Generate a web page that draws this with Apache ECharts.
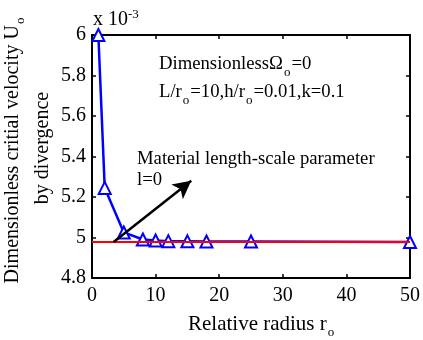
<!DOCTYPE html>
<html>
<head>
<meta charset="utf-8">
<script src="https://cdn.jsdelivr.net/npm/echarts@6/dist/echarts.min.js"></script>
<style>
	html, body { margin: 0; padding: 0; background: #fff; }
	#chart { width: 423px; height: 340px; }
</style>
</head>
<body>
<div id="chart"></div>
<script>
// relative radius r_o and critical velocity (x 10^-3)
const radius = [1, 2, 5, 8, 10, 12, 15, 18, 25, 50]
const velocity = [6.0, 5.245, 5.025, 4.99, 4.985, 4.982, 4.981, 4.98, 4.98, 4.978]
// classical limit (l=0) drawn as a flat red line
const limitX = [0, 50]
const limitY = [4.978, 4.978]
// arrow from the red line to the note
const arrowFrom = [3.4, 4.978]
const arrowTo = [15.6, 5.28]
const xTicks = [0, 10, 20, 30, 40, 50]
const yTicks = [4.8, 5, 5.2, 5.4, 5.6, 5.8, 6]

const font = 'Liberation Serif'
const chart = echarts.init(document.getElementById('chart'))

const axisCommon = {
	axisLine: { show: true, onZero: false, lineStyle: { color: '#000', width: 2 } },
	axisTick: { show: true, inside: true, length: 4, lineStyle: { color: '#000', width: 1.5 } },
	splitLine: { show: false },
}
const sub = { fontSize: 13, fontFamily: font, padding: [16, 1, 0, 1] }

const option = {
	animation: false,
	backgroundColor: '#fff',
	grid: { left: 92, right: 8, top: 35, bottom: 62 },
	xAxis: [
		{
			type: 'value',
			min: xTicks[0],
			max: xTicks[xTicks.length - 1],
			interval: 10,
			...axisCommon,
			axisLabel: { color: '#000', fontFamily: font, fontSize: 20, margin: 8 },
		},
		{
			type: 'value',
			position: 'top',
			min: xTicks[0],
			max: xTicks[xTicks.length - 1],
			interval: 10,
			...axisCommon,
			axisLabel: { show: false },
		},
	],
	yAxis: [
		{
			type: 'value',
			min: yTicks[0],
			max: yTicks[yTicks.length - 1],
			interval: 0.2,
			...axisCommon,
			axisLabel: {
				color: '#000',
				fontFamily: font,
				fontSize: 20,
				margin: 6,
				formatter: (v) => String(parseFloat(v.toFixed(1))),
			},
		},
		{
			type: 'value',
			position: 'right',
			min: yTicks[0],
			max: yTicks[yTicks.length - 1],
			interval: 0.2,
			...axisCommon,
			axisLabel: { show: false },
		},
	],
	series: [
		{
			type: 'line',
			data: limitX.map((x, i) => [x, limitY[i]]),
			showSymbol: false,
			lineStyle: { color: '#ff0000', width: 2 },
			z: 3,
			markLine: {
				silent: true,
				symbol: ['none', 'arrow'],
				symbolSize: [14, 18],
				label: { show: false },
				lineStyle: { color: '#000', width: 2.5, type: 'solid' },
				data: [[{ coord: arrowFrom }, { coord: arrowTo }]],
			},
		},
		{
			type: 'line',
			data: radius.map((x, i) => [x, velocity[i]]),
			symbol: 'emptyTriangle',
			symbolSize: 12,
			lineStyle: { color: '#0000ff', width: 2.5 },
			itemStyle: { color: '#0000ff', borderWidth: 2 },
			z: 2,
		},
	],
	graphic: [
		{
			type: 'text',
			left: 93,
			top: 8,
			style: {
				text: 'x 10{sup|-3}',
				font: '20px ' + font,
				fill: '#000',
				rich: { sup: { fontSize: 13, fontFamily: font, verticalAlign: 'top', padding: [0, 0, 10, 0] } },
			},
		},
		{
			type: 'text',
			left: 159,
			top: 55,
			style: {
				text: 'DimensionlessΩ{sub|o}=0',
				font: '18.7px ' + font,
				fill: '#000',
				rich: { sub },
			},
		},
		{
			type: 'text',
			left: 159,
			top: 83,
			style: {
				text: 'L/r{sub|o}=10,h/r{sub|o}=0.01,k=0.1',
				font: '18.7px ' + font,
				fill: '#000',
				rich: { sub },
			},
		},
		{
			type: 'text',
			left: 137,
			top: 150,
			style: { text: 'Material length-scale parameter', font: '18.7px ' + font, fill: '#000' },
		},
		{
			type: 'text',
			left: 137,
			top: 171,
			style: { text: 'l=0', font: '18.7px ' + font, fill: '#000' },
		},
		{
			type: 'text',
			left: 188,
			top: 314,
			style: {
				text: 'Relative radius r{sub|o}',
				font: '21px ' + font,
				fill: '#000',
				rich: { sub },
			},
		},
		{
			type: 'text',
			x: 13,
			y: 150,
			rotation: Math.PI / 2,
			style: {
				text: 'Dimensionless critial velocity U{sub|o}',
				font: '20px ' + font,
				fill: '#000',
				align: 'center',
				verticalAlign: 'middle',
				rich: { sub },
			},
		},
		{
			type: 'text',
			x: 43,
			y: 148,
			rotation: Math.PI / 2,
			style: {
				text: 'by divergence',
				font: '20px ' + font,
				fill: '#000',
				align: 'center',
				verticalAlign: 'middle',
			},
		},
	],
}

chart.setOption(option)
</script>
</body>
</html>
